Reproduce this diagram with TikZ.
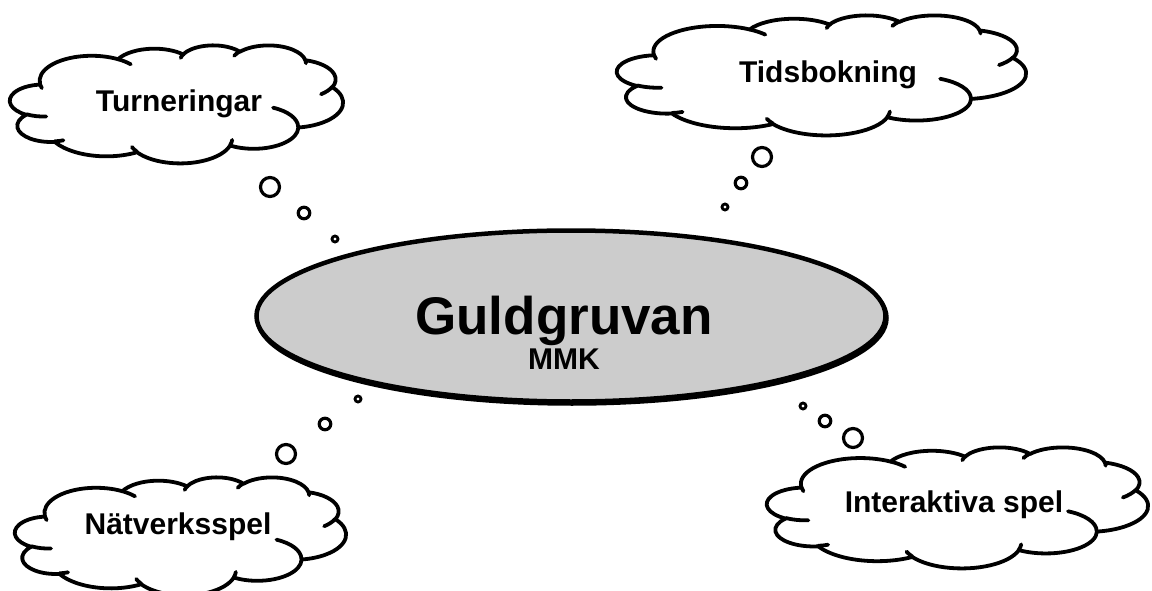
\documentclass[tikz,border=0pt]{standalone}
\usepackage{fontspec}
\setmainfont{Liberation Sans}
\usetikzlibrary{shapes.geometric}
% convert an OOXML-style arc (visual angles) to parametric angles
\newcommand\cldang[5]{%
  \pgfmathsetmacro\cldtmpa{atan2((#2)*sin(#4),(#3)*cos(#4))}%
  \pgfmathsetmacro\cldtmpb{atan2((#2)*sin((#4)+(#5)),(#3)*cos((#4)+(#5)))}%
  \pgfmathsetmacro\cldtmpc{mod(\cldtmpb-\cldtmpa+720,360)}%
  \expandafter\xdef\csname cld#1s\endcsname{\cldtmpa}%
  \expandafter\xdef\csname cld#1d\endcsname{\cldtmpc}%
}
\newcommand\carc[3]{arc[x radius=#1, y radius=#2, start angle=\csname cld#3s\endcsname, delta angle=\csname cld#3d\endcsname]}
\newcommand\cloudshape{%
  \filldraw[cloudline, fill=white] (3.9,14.37)
    \carc{6.753}{9.190}{A} \carc{5.333}{7.267}{B} \carc{4.365}{5.945}{C}
    \carc{4.857}{6.595}{D} \carc{5.333}{7.273}{E} \carc{6.775}{9.220}{F}
    \carc{5.785}{7.867}{G} \carc{6.752}{9.215}{H} \carc{7.720}{10.543}{I}
    \carc{4.360}{5.918}{J} \carc{4.345}{5.945}{K} -- cycle;
  \draw[cloudline]
    (4.693,26.177) \carc{4.345}{5.945}{a}
    (6.928,34.899) \carc{4.360}{5.918}{b}
    (16.478,39.090) \carc{6.752}{9.215}{c}
    (28.827,34.751) \carc{6.752}{9.215}{d}
    (34.129,22.954) \carc{5.785}{7.867}{e}
    (41.798,15.354) \carc{5.333}{7.273}{f}
    (38.324,5.426) \carc{4.857}{6.595}{g}
    (29.078,3.952) \carc{4.857}{6.595}{h}
    (22.141,4.720) \carc{4.365}{5.945}{i}
    (14.000,5.192) \carc{6.753}{9.190}{j}
    (4.127,15.789) \carc{6.753}{9.190}{k};
}
\newcommand\cloudat[4]{%
  \begin{scope}[shift={(#1,#2)}, x=1cm, y=1cm, xscale=#3/1229.16, yscale=-#4/1229.16]
    \cloudshape
  \end{scope}}
\tikzset{
  cloudline/.style={line width=3.8pt, line join=round, line cap=round},
  cloudtext/.style={font=\bfseries\fontsize{30}{30}\selectfont, anchor=base, inner sep=0pt},
  bubble/.style={circle, draw, fill=white, line width=3.2pt, inner sep=0pt},
  bigb/.style={bubble, minimum size=19pt},
  midb/.style={bubble, minimum size=11.5pt},
  smallb/.style={bubble, line width=2.8pt, minimum size=6pt},
  hubshape/.style={ellipse, minimum width=629pt, minimum height=171pt, inner sep=0pt},
}
\begin{document}
\begin{tikzpicture}[x=1pt, y=-1pt]
  \cldang{A}{6.753}{9.190}{-190.4875}{123.7805}
  \cldang{B}{5.333}{7.267}{-144.1024}{89.9452}
  \cldang{C}{4.365}{5.945}{-145.8079}{99.7230}
  \cldang{D}{4.857}{6.595}{-130.9861}{117.2417}
  \cldang{E}{5.333}{7.273}{-78.7089}{109.0269}
  \cldang{F}{6.775}{9.220}{-46.2673}{130.2690}
  \cldang{G}{5.785}{7.867}{0.6250}{114.0333}
  \cldang{H}{6.752}{9.215}{22.4516}{115.1726}
  \cldang{I}{7.720}{10.543}{66.2426}{75.7110}
  \cldang{J}{4.360}{5.918}{-274.9421}{146.7356}
  \cldang{K}{4.345}{5.945}{-246.8285}{152.5189}
  \cldang{a}{4.345}{5.945}{86.742}{26.4295}
  \cldang{b}{4.360}{5.918}{73.6105}{11.4475}
  \cldang{c}{6.752}{9.215}{137.6242}{14.0811}
  \cldang{d}{6.752}{9.215}{6.4533}{15.9984}
  \cldang{e}{5.785}{7.867}{-70.2924}{69.1243}
  \cldang{f}{5.333}{7.273}{30.318}{27.7515}
  \cldang{g}{4.857}{6.595}{-13.7443}{14.8589}
  \cldang{h}{4.857}{6.595}{-149.1815}{18.1954}
  \cldang{i}{4.365}{5.945}{-163.4943}{19.003}
  \cldang{j}{6.753}{9.190}{-66.707}{16.73}
  \cldang{k}{6.753}{9.190}{-202.36}{11.87}

  \fill[white] (0,0) rectangle (1152,591);
  \useasboundingbox (0,0) rectangle (1152,591);

  % clouds
  \cloudat{10}{45}{333}{118}
  \cloudat{617}{15}{409}{120}
  \cloudat{767}{447}{381}{121}
  \cloudat{15}{477}{331}{118}

  \node[cloudtext] (turn) at (179,112) {Turneringar};
  \node[cloudtext] (tids) at (828,83) {Tidsbokning};
  \node[cloudtext] (inter) at (954,512) {Interaktiva spel};
  \node[cloudtext] (natv) at (178,534) {Nätverksspel};

  % central ellipse with slight shadow
  \node[hubshape, draw, line width=4.5pt, fill=black] (hubshadow) at (572,318) {};
  \node[hubshape, draw, line width=4.5pt, fill={rgb,255:red,204;green,204;blue,204}] (hub) at (571,316) {};
  \node[font=\bfseries\fontsize{53}{53}\selectfont, anchor=base, inner sep=0pt] (guld) at (564,334) {Guldgruvan};
  \node[font=\bfseries\fontsize{30}{30}\selectfont, anchor=base, inner sep=0pt] (mmk) at (564,369) {MMK};

  % thought bubbles
  \node[bigb] (tl1) at (270,187) {};
  \node[midb] (tl2) at (304,213) {};
  \node[smallb] (tl3) at (335,239) {};
  \node[bigb] (tr1) at (762,157) {};
  \node[midb] (tr2) at (741,183) {};
  \node[smallb] (tr3) at (725,207) {};
  \node[bigb] (bl1) at (286,454) {};
  \node[midb] (bl2) at (325,424) {};
  \node[smallb] (bl3) at (358,399) {};
  \node[bigb] (br1) at (853,438) {};
  \node[midb] (br2) at (825,421) {};
  \node[smallb] (br3) at (803,406) {};
\end{tikzpicture}
\end{document}
